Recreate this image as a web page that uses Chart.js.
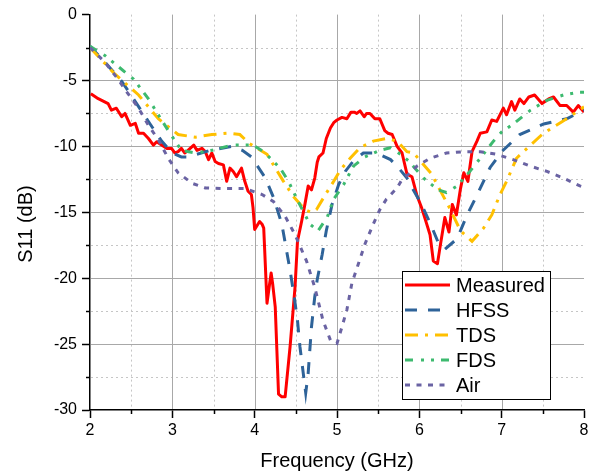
<!DOCTYPE html>
<html><head><meta charset="utf-8">
<script src="https://cdn.jsdelivr.net/npm/chart.js@4/dist/chart.umd.min.js"></script>
<style>html,body{margin:0;padding:0;background:#fff;overflow:hidden}#wrap{width:592px;height:475px;position:relative}</style>
</head><body><div id="wrap"><canvas id="c" width="592" height="475"></canvas></div>
<script>
const FONT = "'Liberation Sans', Arial, sans-serif";
const seriesNames = ["Measured", "HFSS", "TDS", "FDS", "Air"];
const xAxisTitle = "Frequency (GHz)";
const yAxisTitle = "S11 (dB)";
const xMinorTicks = [2.5, 3.5, 4.5, 5.5, 6.5, 7.5];
const xMajorGrid = [3, 4, 5, 6, 7];
const yMinorTicks = [-2.5, -7.5, -12.5, -17.5, -22.5, -27.5];
const yMajorGrid = [-5, -10, -15, -20, -25];

const measuredFreq = [2.01,2.10,2.22,2.26,2.32,2.385,2.425,2.49,2.55,2.59,2.65,2.71,2.77,2.81,2.87,2.93,2.99,3.03,3.07,3.11,3.15,3.19,3.26,3.30,3.36,3.40,3.44,3.48,3.52,3.56,3.62,3.66,3.70,3.74,3.78,3.84,3.88,3.92,3.96,3.98,4.00,4.03,4.06,4.09,4.11,4.15,4.18,4.20,4.22,4.25,4.27,4.29,4.33,4.37,4.43,4.49,4.52,4.57,4.61,4.65,4.69,4.73,4.76,4.78,4.83,4.87,4.92,4.96,5.00,5.06,5.12,5.17,5.21,5.24,5.28,5.33,5.36,5.40,5.46,5.52,5.58,5.62,5.67,5.73,5.79,5.85,5.91,5.97,6.03,6.09,6.13,6.17,6.22,6.25,6.31,6.36,6.40,6.45,6.50,6.54,6.59,6.64,6.70,6.74,6.82,6.88,6.94,7.02,7.06,7.12,7.16,7.22,7.27,7.33,7.40,7.49,7.57,7.63,7.71,7.79,7.87,7.93,8.00];
const measuredS11 = [-6.0,-6.38,-6.75,-7.25,-7.1,-7.75,-7.5,-8.4,-8.25,-9.0,-9.0,-9.4,-9.9,-9.65,-9.9,-10.15,-10.15,-10.5,-10.4,-10.15,-10.5,-10.3,-9.9,-10.3,-10.15,-10.4,-11.0,-10.5,-11.15,-11.3,-11.4,-12.65,-11.65,-11.9,-12.3,-11.65,-12.65,-13.4,-13.65,-14.65,-16.3,-16.0,-15.7,-15.9,-16.2,-21.9,-20.5,-19.6,-20.5,-22.2,-25.5,-28.8,-29.0,-29.0,-25.2,-20.7,-17.2,-15.7,-14.4,-13.0,-13.3,-12.4,-11.2,-10.8,-10.5,-9.4,-8.6,-8.2,-8.0,-7.8,-7.9,-7.4,-7.4,-7.5,-7.3,-7.75,-7.5,-7.5,-7.9,-7.9,-8.8,-9.0,-9.1,-10.0,-10.5,-12.1,-12.3,-13.7,-14.7,-15.9,-16.7,-18.7,-18.9,-17.7,-15.4,-16.5,-14.4,-15.2,-13.2,-12.0,-12.65,-10.4,-9.6,-9.0,-8.9,-8.0,-8.1,-7.1,-7.6,-6.6,-7.25,-6.4,-6.75,-6.25,-6.1,-6.75,-6.4,-6.25,-6.9,-6.9,-7.4,-6.9,-7.4];

const hfssFreq = [2.00,2.18,2.39,2.55,2.73,2.87,3.00,3.11,3.19,3.46,3.72,3.85,3.96,4.13,4.23,4.33,4.43,4.48,4.52,4.55,4.59,4.62,4.65,4.69,4.73,4.76,4.82,4.87,4.94,5.02,5.10,5.20,5.32,5.48,5.65,5.73,5.77,5.85,5.89,6.01,6.13,6.23,6.31,6.46,6.58,6.70,6.86,7.00,7.22,7.51,7.79,8.00];
const hfssS11 = [-2.4,-3.6,-5.1,-6.6,-8.3,-9.6,-10.5,-10.8,-10.8,-10.3,-10.0,-10.3,-10.8,-12.4,-13.9,-15.9,-19.4,-21.4,-23.2,-25.2,-27.2,-28.7,-27.2,-23.7,-21.4,-20.1,-18.2,-16.4,-14.4,-12.9,-11.9,-11.1,-10.5,-10.5,-11.0,-11.5,-11.8,-12.4,-12.9,-14.2,-15.8,-17.3,-17.8,-17.0,-15.2,-13.7,-11.6,-10.4,-9.1,-8.3,-7.9,-7.25];

const tdsFreq = [2.00,2.30,2.59,2.83,3.07,3.28,3.48,3.68,3.82,3.94,4.15,4.35,4.47,4.61,4.68,4.75,4.86,4.96,5.04,5.16,5.28,5.44,5.60,5.73,5.85,5.93,6.15,6.25,6.37,6.50,6.64,6.78,6.88,6.98,7.06,7.18,7.35,7.49,7.61,7.79,8.00];
const tdsS11 = [-2.5,-4.5,-6.1,-7.9,-9.1,-9.3,-9.1,-9.0,-9.1,-9.8,-10.6,-12.65,-13.8,-14.8,-15.0,-14.8,-13.65,-12.65,-11.8,-10.9,-10.1,-9.6,-9.4,-9.6,-10.4,-10.5,-12.1,-13.3,-14.7,-16.4,-17.2,-16.2,-15.2,-13.65,-12.65,-10.9,-9.9,-9.1,-8.6,-7.9,-7.0];

const fdsFreq = [2.00,2.18,2.53,2.71,2.95,3.11,3.28,3.48,3.72,3.98,4.11,4.31,4.41,4.53,4.67,4.77,4.88,4.96,5.08,5.20,5.34,5.52,5.65,5.77,5.87,6.05,6.23,6.33,6.46,6.60,6.74,6.90,7.00,7.14,7.35,7.55,7.75,7.93,8.00];
const fdsS11 = [-2.4,-3.1,-4.9,-6.4,-8.8,-10.3,-10.5,-10.3,-9.9,-9.9,-10.4,-11.65,-12.65,-14.2,-15.9,-16.4,-15.4,-14.0,-12.9,-11.5,-10.8,-10.3,-10.1,-10.6,-11.1,-12.4,-13.3,-13.5,-13.0,-12.0,-10.9,-9.6,-8.9,-8.3,-7.25,-6.5,-6.1,-5.9,-5.9];

const airFreq = [2.00,2.18,2.34,2.45,2.59,2.71,2.83,2.95,3.07,3.24,3.40,3.64,3.88,4.09,4.23,4.37,4.49,4.63,4.73,4.83,4.92,5.00,5.06,5.12,5.18,5.26,5.34,5.44,5.52,5.60,5.73,5.79,5.87,5.97,6.13,6.33,6.54,6.74,6.94,7.14,7.35,7.55,7.75,7.95,8.00];
const airS11 = [-2.5,-3.6,-4.9,-5.9,-7.1,-8.4,-9.5,-10.9,-12.0,-12.8,-13.15,-13.2,-13.2,-13.65,-14.2,-15.3,-16.7,-18.7,-20.7,-23.2,-24.7,-24.95,-23.7,-22.4,-20.4,-18.9,-17.4,-15.9,-14.8,-14.0,-13.15,-12.5,-12.1,-11.5,-10.9,-10.5,-10.4,-10.4,-10.6,-11.0,-11.5,-11.9,-12.4,-13.0,-13.1];

const colors = ["#ff0000", "#2e6399", "#ffc000", "#3dba6f", "#6a63a3"];
const dashes = [[], [12, 11], [13, 7, 3, 7], [8, 8, 3, 7, 3, 7], [5, 6.5]];
const freqs = [measuredFreq, hfssFreq, tdsFreq, fdsFreq, airFreq];
const vals = [measuredS11, hfssS11, tdsS11, fdsS11, airS11];

const datasets = seriesNames.map((n, i) => ({
  label: n,
  data: freqs[i].map((f, j) => ({x: f, y: vals[i][j]})),
  borderColor: colors[i],
  backgroundColor: colors[i],
  borderDash: dashes[i],
  borderWidth: 3,
  borderCapStyle: 'butt',
  borderJoinStyle: i === 0 ? 'round' : 'miter',
  pointRadius: 0,
  tension: 0,
  fill: false,
  order: 4 - i
}));

const gridPlugin = {
  id: 'minorGrid',
  beforeDatasetsDraw(chart) {
    const {ctx, chartArea: a, scales: {x, y}} = chart;
    ctx.save();
    ctx.lineWidth = 1;
    const seg = (x1, y1, x2, y2) => { ctx.beginPath(); ctx.moveTo(x1, y1); ctx.lineTo(x2, y2); ctx.stroke(); };
    ctx.strokeStyle = '#c6c6c6'; ctx.setLineDash([2, 3]);
    xMinorTicks.forEach(v => { const p = Math.round(x.getPixelForValue(v)) + 0.5; seg(p, a.top, p, a.bottom - 1); });
    yMinorTicks.forEach(v => { const p = Math.round(y.getPixelForValue(v)) + 0.5; seg(a.left + 1, p, a.right, p); });
    ctx.setLineDash([]); ctx.strokeStyle = '#a8a8a8';
    xMajorGrid.forEach(v => { const p = Math.round(x.getPixelForValue(v)) + 0.5; seg(p, a.top, p, a.bottom - 1); });
    yMajorGrid.forEach(v => { const p = Math.round(y.getPixelForValue(v)) + 0.5; seg(a.left + 1, p, a.right, p); });
    ctx.strokeStyle = '#000'; ctx.lineWidth = 1.5;
    xMinorTicks.forEach(v => { const p = Math.round(x.getPixelForValue(v)) + 0.5; seg(p, a.bottom, p, a.bottom + 4); });
    yMinorTicks.forEach(v => { const p = Math.round(y.getPixelForValue(v)) + 0.5; seg(a.left - 4, p, a.left, p); });
    ctx.restore();
  }
};

const overlayPlugin = {
  id: 'overlay',
  afterDraw(chart) {
    const ctx = chart.ctx;
    ctx.save();
    // y axis title
    ctx.fillStyle = '#000';
    ctx.font = "20px " + FONT;
    ctx.textAlign = 'center'; ctx.textBaseline = 'middle';
    ctx.translate(26, 224); ctx.rotate(-Math.PI / 2);
    ctx.fillText(yAxisTitle, 0, 0);
    ctx.restore();
    // legend
    ctx.save();
    const bx = 402.5, by = 271.5, bw = 148, bh = 128;
    ctx.fillStyle = '#fff'; ctx.fillRect(bx, by, bw, bh);
    ctx.strokeStyle = '#000'; ctx.lineWidth = 1; ctx.strokeRect(bx, by, bw, bh);
    chart.data.datasets.forEach((ds, i) => {
      const yy = 285 + i * 25;
      ctx.strokeStyle = ds.borderColor; ctx.lineWidth = 3; ctx.lineCap = 'butt';
      ctx.setLineDash(ds.borderDash);
      ctx.beginPath(); ctx.moveTo(405, yy); ctx.lineTo(450, yy); ctx.stroke();
      ctx.setLineDash([]);
      ctx.fillStyle = '#000'; ctx.font = "20px " + FONT;
      ctx.textAlign = 'left'; ctx.textBaseline = 'middle';
      ctx.fillText(ds.label, 456, yy + 1);
    });
    ctx.restore();
  }
};

new Chart(document.getElementById('c'), {
  type: 'line',
  data: {datasets},
  options: {
    responsive: false,
    animation: false,
    devicePixelRatio: 1,
    layout: {padding: {top: 12, right: 8, left: 0, bottom: 0}},
    plugins: {legend: {display: false}, tooltip: {enabled: false}},
    scales: {
      x: {
        type: 'linear', min: 2, max: 8,
        ticks: {stepSize: 1, color: '#000', font: {family: FONT, size: 16}, padding: 3, maxRotation: 0, autoSkip: false},
        grid: {drawOnChartArea: false, tickLength: 8, tickColor: '#000', tickWidth: 1.5},
        border: {color: '#000', width: 1.5},
        title: {display: true, text: xAxisTitle, color: '#000', font: {family: FONT, size: 20}, padding: {top: 0, bottom: 2}},
        afterFit(s) { s.height = 65; }
      },
      y: {
        type: 'linear', min: -30, max: 0,
        ticks: {stepSize: 5, color: '#000', font: {family: FONT, size: 16}, padding: 5},
        grid: {drawOnChartArea: false, tickLength: 8, tickColor: '#000', tickWidth: 1.5},
        border: {color: '#000', width: 1.5},
        title: {display: false},
        afterFit(s) { s.width = 90; }
      }
    }
  },
  plugins: [gridPlugin, overlayPlugin]
});
</script>
</body></html>
